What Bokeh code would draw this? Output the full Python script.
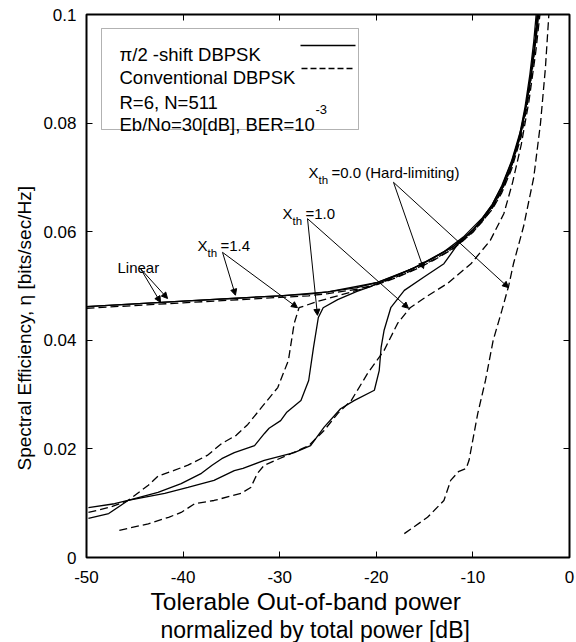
import math
from bokeh.plotting import figure
from bokeh.models import (Range1d, LinearAxis, FixedTicker, CustomJSTickFormatter, Label,
                          Arrow, NormalHead, ColumnDataSource, BoxAnnotation, Title)
from bokeh.embed import file_html
from bokeh.resources import INLINE

FONT = "Liberation Sans"

# ---------------- data ----------------
x_ticks = [-50, -40, -30, -20, -10, 0]
y_ticks = [0, 0.02, 0.04, 0.06, 0.08, 0.1]

# Linear, pi/2-shift DBPSK (solid)
lin_s_x = [-50, -45, -40, -35, -30, -27, -25, -22, -20, -18, -16, -14, -12, -11, -10, -9, -8, -7, -6, -5.2, -4.6, -4.1, -3.7, -3.4]
lin_s_y = [0.0462, 0.0467, 0.0472, 0.0477, 0.0482, 0.0485, 0.0489, 0.0497, 0.0506, 0.0519, 0.0534, 0.0552, 0.0573, 0.0587, 0.0603, 0.0622, 0.0646, 0.0678, 0.0722, 0.0775, 0.0830, 0.0890, 0.0950, 0.1010]
# Linear, conventional DBPSK (dashed)
lin_d_x = [-50, -45, -40, -35, -30, -27, -25, -22, -20, -18, -16, -14, -12, -11, -10, -9, -8, -7, -6, -5.1, -4.5, -4.0, -3.6, -3.3]
lin_d_y = [0.0459, 0.0464, 0.0469, 0.0474, 0.0479, 0.0482, 0.0486, 0.0494, 0.0503, 0.0516, 0.0531, 0.0549, 0.0570, 0.0584, 0.0600, 0.0619, 0.0643, 0.0675, 0.0720, 0.0775, 0.0830, 0.0890, 0.0950, 0.1010]
# X_th = 1.4
x14_s_x = [-50, -40, -30, -25, -20, -16, -12, -10, -8, -7, -6, -5.1, -4.5, -4.0, -3.55, -3.25]
x14_s_y = [0.0462, 0.0472, 0.0482, 0.0489, 0.0506, 0.0534, 0.0573, 0.0603, 0.0646, 0.0678, 0.0722, 0.0775, 0.0830, 0.0890, 0.0950, 0.1010]
x14_d_x = [-49.8, -47.5, -45.7, -43.6, -42.6, -41, -39.5, -37.5, -36, -34.5, -33.3, -31.9, -30.2, -29.1, -28.5, -28.0, -26, -24, -21.6, -20, -18, -16, -14, -12, -10, -8, -7, -6, -5.0, -4.4, -3.9, -3.5, -3.2]
x14_d_y = [0.0083, 0.0093, 0.0105, 0.0133, 0.0150, 0.0160, 0.0170, 0.0188, 0.0210, 0.0225, 0.0245, 0.0276, 0.0313, 0.0363, 0.0431, 0.0460, 0.0472, 0.0482, 0.0494, 0.0502, 0.0515, 0.0530, 0.0548, 0.0569, 0.0599, 0.0641, 0.0672, 0.0715, 0.0775, 0.0830, 0.0890, 0.0950, 0.1010]
# X_th = 1.0
x10_s_x = [-49.8, -47.7, -45.7, -42.6, -40.2, -38.1, -37, -36, -34.7, -32.6, -31.6, -31.1, -29.9, -29.3, -27.8, -27, -26.5, -26, -25.5, -24, -22, -20.9, -19, -17, -15, -13, -11, -9, -8, -7, -6, -5.0, -4.4, -3.9, -3.5, -3.2]
x10_s_y = [0.0072, 0.0081, 0.0105, 0.0120, 0.0136, 0.0155, 0.0170, 0.0182, 0.0193, 0.0206, 0.0228, 0.0238, 0.0252, 0.0267, 0.0289, 0.0326, 0.0387, 0.0442, 0.0460, 0.0475, 0.0490, 0.0497, 0.0511, 0.0526, 0.0543, 0.0563, 0.0590, 0.0626, 0.0650, 0.0683, 0.0728, 0.0785, 0.0840, 0.0900, 0.0960, 0.1015]
x10_d_x = [-46.6, -43.6, -41.5, -40.2, -38.8, -36.8, -34, -33, -32.3, -31.6, -29, -27, -25.4, -24, -22.6, -20.9, -19.2, -17.8, -16.5, -15.1, -12.6, -10.2, -8.2, -6.8, -5.9, -5.0, -4.2, -3.5, -3.0]
x10_d_y = [0.0050, 0.0062, 0.0074, 0.0083, 0.0099, 0.0105, 0.0118, 0.0129, 0.0155, 0.0170, 0.0190, 0.0206, 0.0234, 0.0265, 0.0289, 0.0339, 0.0381, 0.0431, 0.0460, 0.0477, 0.0505, 0.0541, 0.0584, 0.0633, 0.0690, 0.0760, 0.0840, 0.0930, 0.1010]
# X_th = 0.0 (hard-limiting)
x00_s_x = [-49.8, -47.1, -45.7, -41.9, -39.5, -36.8, -34.7, -33.8, -31.6, -28.5, -26.8, -25.4, -23.7, -22.3, -20.2, -19.7, -19.5, -19.2, -18.5, -17.1, -15.1, -13, -11.6, -10, -9, -8, -7, -6, -5.0, -4.3, -3.8, -3.4, -3.1]
x00_s_y = [0.0092, 0.0099, 0.0105, 0.0118, 0.0129, 0.0142, 0.0160, 0.0164, 0.0179, 0.0193, 0.0206, 0.0240, 0.0274, 0.0289, 0.0308, 0.0344, 0.0387, 0.0418, 0.0460, 0.0492, 0.0516, 0.0541, 0.0576, 0.0603, 0.0625, 0.0650, 0.0685, 0.0730, 0.0790, 0.0850, 0.0910, 0.0965, 0.1015]
x00_d_x = [-17.1, -14.7, -13, -12.3, -11.5, -10.7, -10.4, -9.5, -8.7, -7.9, -7, -6.3, -5.8, -4.75, -3.7, -3.0, -2.5, -2.1]
x00_d_y = [0.0044, 0.0074, 0.0105, 0.0142, 0.0158, 0.0164, 0.0179, 0.0265, 0.0326, 0.0400, 0.0455, 0.0500, 0.0541, 0.0610, 0.0700, 0.0800, 0.0900, 0.1010]

# annotation arrows (label anchor -> curve point)
arr_x0 = [-44.41, -44.41, -35.92, -35.92, -27.12, -27.12, -18.22, -18.22]
arr_y0 = [0.0532, 0.0532, 0.0562, 0.0562, 0.0624, 0.0624, 0.0691, 0.0691]
arr_x1 = [-42.34, -41.61, -34.58, -28.16, -26.09, -16.67, -15.11, -6.31]
arr_y1 = [0.0470, 0.0477, 0.0483, 0.0460, 0.0446, 0.0459, 0.0532, 0.0497]

legend_texts = ["\u03c0/2 -shift DBPSK", "Conventional DBPSK", "R=6, N=511", "Eb/No=30[dB], BER=10"]
x_title = ["Tolerable Out-of-band power", "normalized by total power [dB]"]
y_title = "Spectral Efficiency, \u03b7 [bits/sec/Hz]"

# ---------------- layout helpers (page pixel -> data) ----------------
W, H = 576, 642
FL, FR, FT, FB = 86, 569, 14, 557
def X(px):
    return -50 + (px - FL) * 50.0 / (FR - FL)
def Y(py):
    return (FB - py) * 0.1 / (FB - FT)

p = figure(width=W, height=H, output_backend="svg", toolbar_location=None,
           x_range=Range1d(-50, 0), y_range=Range1d(0, 0.1),
           min_border_left=FL, min_border_right=W - FR, min_border_top=FT,
           min_border_bottom=H - FB)
p.background_fill_color = "white"
p.border_fill_color = "white"
p.outline_line_color = "black"
p.outline_line_width = 2
p.xgrid.visible = False
p.ygrid.visible = False

fmt = CustomJSTickFormatter(code="return String(Math.round(tick*100)/100)")
for ax in (p.xaxis[0], p.yaxis[0]):
    ax.axis_line_color = None
    ax.major_tick_in = 6
    ax.major_tick_out = 0
    ax.minor_tick_line_color = None
    ax.major_tick_line_color = "black"
    ax.major_label_text_font = FONT
    ax.major_label_text_font_size = "17px"
    ax.major_label_text_color = "black"
    ax.formatter = fmt
p.xaxis[0].ticker = FixedTicker(ticks=x_ticks)
p.yaxis[0].ticker = FixedTicker(ticks=y_ticks)
p.xaxis[0].major_label_standoff = 13
p.yaxis[0].major_label_standoff = 10

blank = CustomJSTickFormatter(code="return ''")
for loc, tk in (("above", x_ticks), ("right", y_ticks)):
    ax = LinearAxis(ticker=FixedTicker(ticks=tk), formatter=blank, axis_line_color=None,
                    major_tick_in=6, major_tick_out=0, minor_tick_line_color=None,
                    major_label_standoff=0, major_label_text_font_size="1px")
    p.add_layout(ax, loc)

LW = 1.3
DASH = "8 4"
p.line(lin_s_x, lin_s_y, line_color="black", line_width=LW)
p.line(lin_d_x, lin_d_y, line_color="black", line_width=LW, line_dash=DASH)
p.line(x14_s_x, x14_s_y, line_color="black", line_width=LW)
p.line(x14_d_x, x14_d_y, line_color="black", line_width=LW, line_dash=DASH)
p.line(x10_s_x, x10_s_y, line_color="black", line_width=LW)
p.line(x10_d_x, x10_d_y, line_color="black", line_width=LW, line_dash=DASH)
p.line(x00_s_x, x00_s_y, line_color="black", line_width=LW)
p.line(x00_d_x, x00_d_y, line_color="black", line_width=LW, line_dash=DASH)

src = ColumnDataSource(dict(x0=arr_x0, y0=arr_y0, x1=arr_x1, y1=arr_y1))
p.add_layout(Arrow(x_start="x0", y_start="y0", x_end="x1", y_end="y1", source=src,
                   line_width=1, line_color="black",
                   end=NormalHead(size=6, fill_color="black", line_color="black", line_width=1)))

def lab(text, px, py, size, align="left", baseline="alphabetic"):
    p.add_layout(Label(x=X(px), y=Y(py), text=text, text_font=FONT,
                       text_font_size=f"{size}px", text_align=align,
                       text_baseline=baseline, text_color="black"))

# legend box
p.add_layout(BoxAnnotation(left=X(101), right=X(358), top=Y(28), bottom=Y(129),
                           fill_color="white", fill_alpha=1.0, line_color="black",
                           line_width=1, level="underlay"))
for t, by in zip(legend_texts, [54, 77.3, 101.7, 124]):
    lab(t, 119, by, 18.5)
lab("-3", 315, 109, 13)
p.segment(x0=[X(300)], y0=[Y(45)], x1=[X(355)], y1=[Y(45)], line_color="black", line_width=LW)
p.segment(x0=[X(301)], y0=[Y(68)], x1=[X(355)], y1=[Y(68)], line_color="black", line_width=LW, line_dash="6 3")

# curve annotations
lab("Linear", 117, 267, 15)
for xl, bl, rest in ((197, 245, "=1.4"), (282, 213, "=1.0"), (308, 172, "=0.0 (Hard-limiting)")):
    lab("X", xl, bl, 15)
    lab("th", xl + 10, bl + 7, 11.5)
    lab(rest, xl + 23, bl, 15)

# axis titles (outside the frame, as titles)
p.add_layout(Title(text=y_title, align="left", offset=87, standoff=12,
                   text_font=FONT, text_font_size="19px", text_font_style="normal",
                   text_color="black"), "left")
for t, off, fs in zip(x_title, [64, 74], ["24.5px", "23px"]):
    p.add_layout(Title(text=t, align="left", offset=off, standoff=0,
                       text_font=FONT, text_font_size=fs, text_font_style="normal",
                       text_color="black"), "below")

open("out.html", "w").write(file_html(p, INLINE))
